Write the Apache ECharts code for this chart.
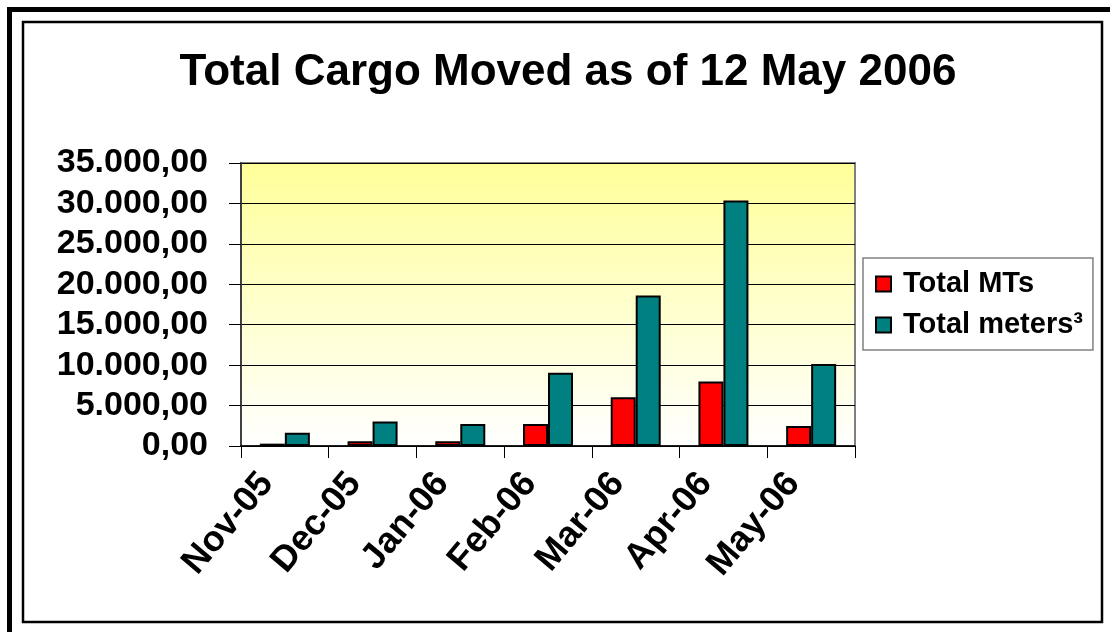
<!DOCTYPE html>
<html>
<head>
<meta charset="utf-8">
<script src="https://cdn.jsdelivr.net/npm/echarts@6/dist/echarts.min.js"></script>
<style>
html,body{margin:0;padding:0;background:#fff;}
#c{width:1110px;height:632px;}
</style>
</head>
<body>
<div id="c"></div>
<script>
var titleText = 'Total Cargo Moved as of 12 May 2006';
var categories = ['Nov-05','Dec-05','Jan-06','Feb-06','Mar-06','Apr-06','May-06'];
var seriesNames = ['Total MTs','Total meters³'];
var totalMTs = [290, 580, 580, 2730, 6040, 7980, 2480];
var totalM3 = [1650, 3020, 2730, 9060, 18620, 30370, 10140];
var yTicks = [0, 5000, 10000, 15000, 20000, 25000, 30000, 35000];

function fmt(v){
  var s = Math.round(v).toString();
  s = s.replace(/\B(?=(\d{3})+(?!\d))/g, '.');
  return s + ',00';
}

var chart = echarts.init(document.getElementById('c'), null, {renderer:'canvas'});
var FONT = '"Liberation Sans", Arial, sans-serif';
chart.setOption({
  backgroundColor: '#ffffff',
  animation: false,
  title: {
    text: titleText,
    left: 563, top: 46,
    textAlign: 'center',
    textStyle: {fontFamily: FONT, fontWeight: 'bold', fontSize: 44, color: '#000'}
  },
  legend: {
    orient: 'vertical',
    left: 863, top: 258,
    padding: [11, 10, 10, 12],
    itemGap: 11,
    itemWidth: 15, itemHeight: 15,
    icon: 'rect',
    borderColor: '#808080', borderWidth: 1.5,
    backgroundColor: '#fff',
    textStyle: {fontFamily: FONT, fontWeight: 'bold', fontSize: 29, lineHeight: 30, color: '#000', padding: [0,0,0,7]},
    data: seriesNames
  },
  graphic: [
    {type:'rect', shape:{x:7, y:7, width:5, height:640}, style:{fill:'#000'}, silent:true},
    {type:'rect', shape:{x:7, y:7, width:1120, height:5}, style:{fill:'#000'}, silent:true},
    {type:'rect', shape:{x:23, y:22, width:1079, height:600}, style:{fill:'none', stroke:'#000', lineWidth:2.5}, silent:true}
  ],
  grid: {
    left: 241, top: 163, width: 614, height: 283,
    show: true,
    borderColor: '#808080', borderWidth: 2,
    backgroundColor: new echarts.graphic.LinearGradient(0,0,0,1,[
      {offset:0, color:'#ffff99'},
      {offset:1, color:'#ffffff'}
    ])
  },
  xAxis: {
    type: 'category',
    data: categories,
    axisLine: {lineStyle: {color:'#000', width:1.5}},
    axisTick: {show:true, length:12, lineStyle:{color:'#000', width:1}},
    axisLabel: {
      rotate: 50, margin: 10, interval: 0,
      padding: [0, 28, 23, 0],
      fontFamily: FONT, fontWeight: 'bold', fontSize: 36, color: '#000'
    },
    splitLine: {show:false}
  },
  yAxis: {
    type: 'value',
    min: 0, max: 35000, interval: 5000,
    axisLine: {show:true, lineStyle: {color:'#404040', width:2}},
    axisTick: {show:true, length:12, lineStyle:{color:'#000', width:1}},
    axisLabel: {
      margin: 33,
      fontFamily: FONT, fontWeight: 'bold', fontSize: 34, color: '#000',
      formatter: function(v){ return fmt(v); }
    },
    splitLine: {show:true, lineStyle:{color:'#000', width:1}}
  },
  series: [
    {name: seriesNames[0], type:'bar', data: totalMTs, barWidth: '28.5%', barGap: '0%',
     itemStyle:{color:'#ff0000', borderColor:'#000', borderWidth:2}},
    {name: seriesNames[1], type:'bar', data: totalM3, barWidth: '28.5%', barGap: '0%',
     itemStyle:{color:'#008080', borderColor:'#000', borderWidth:2}}
  ]
});
</script>
</body>
</html>
